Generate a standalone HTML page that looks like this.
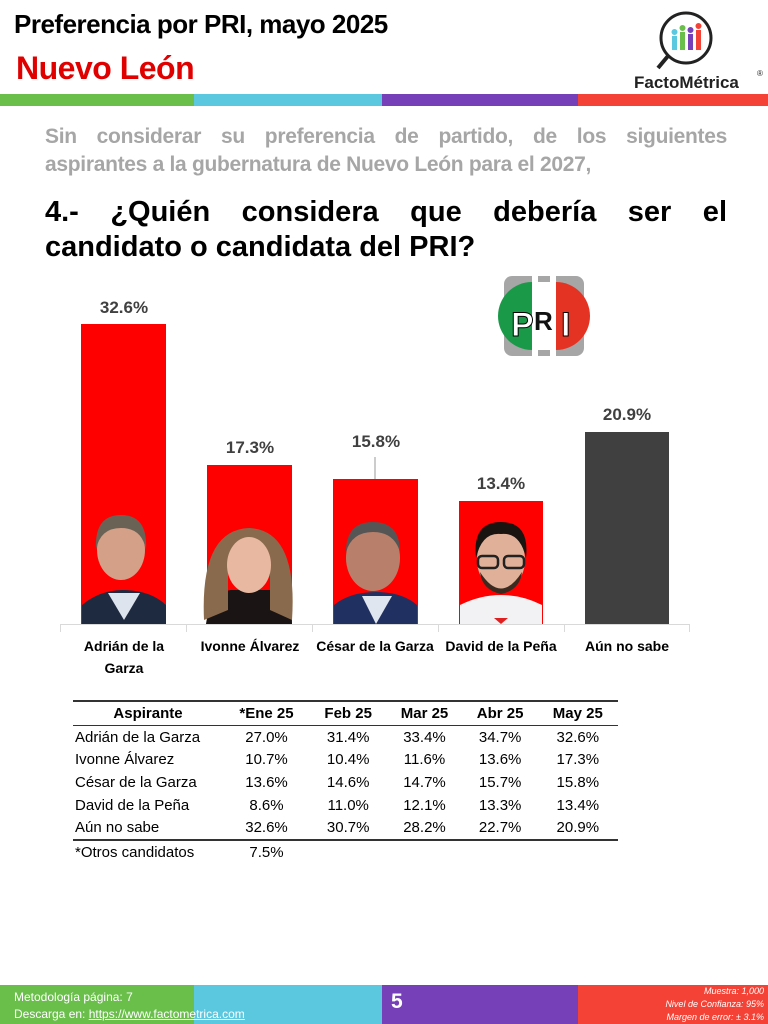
<!DOCTYPE html>
<html><head><meta charset="utf-8"><style>
body{margin:0;width:768px;height:1024px;position:relative;background:#fff;font-family:"Liberation Sans",sans-serif;overflow:hidden}
.a{position:absolute}
.t1{left:14px;top:9px;font-size:26px;font-weight:bold;color:#000;letter-spacing:-0.5px}
.t2{left:16px;top:50px;font-size:32px;font-weight:bold;color:#e00000;letter-spacing:-0.5px}
.sub{left:45px;top:123px;width:682px;font-size:21px;font-weight:bold;color:#a6a6a6;line-height:28px;letter-spacing:-0.3px}
.q{left:45px;top:195px;width:682px;font-size:29px;font-weight:bold;color:#000;line-height:35px}
table{border-collapse:collapse;font-size:15px}
td,th{padding:0;height:22.7px;text-align:center}
</style></head><body>
<div class="a t1">Preferencia por PRI, mayo 2025</div>
<div class="a t2">Nuevo León</div>
<svg class="a" style="left:630px;top:6px" width="136" height="88">
<circle cx="56" cy="32" r="25" fill="none" stroke="#222" stroke-width="3"/>
<line x1="38" y1="50" x2="28" y2="62" stroke="#222" stroke-width="4"/>
<rect x="42" y="30" width="5" height="14" fill="#5bc8e0"/><circle cx="44.5" cy="26" r="3" fill="#5bc8e0"/>
<rect x="50" y="26" width="5" height="18" fill="#6abf4b"/><circle cx="52.5" cy="22" r="3" fill="#6abf4b"/>
<rect x="58" y="28" width="5" height="16" fill="#7540b8"/><circle cx="60.5" cy="24" r="3" fill="#7540b8"/>
<rect x="66" y="24" width="5" height="20" fill="#f44336"/><circle cx="68.5" cy="20" r="3" fill="#f44336"/>
<text x="4" y="82" font-family="Liberation Sans" font-weight="bold" font-size="17" fill="#222">FactoMétrica</text>
<text x="127" y="70" font-size="8" fill="#222">®</text>
</svg>
<div class="a" style="left:0;top:94px;width:194px;height:12px;background:#6abf4b"></div>
<div class="a" style="left:194px;top:94px;width:188px;height:12px;background:#5bc8e0"></div>
<div class="a" style="left:382px;top:94px;width:196px;height:12px;background:#7540b8"></div>
<div class="a" style="left:578px;top:94px;width:190px;height:12px;background:#f44336"></div>
<div class="a sub"><span style="display:block;text-align:justify;text-align-last:justify">Sin considerar su preferencia de partido, de los siguientes</span>aspirantes a la gubernatura de Nuevo León para el 2027,</div>
<div class="a q"><span style="display:block;text-align:justify;text-align-last:justify">4.- ¿Quién considera que debería ser el</span>candidato o candidata del PRI?</div>
<svg class="a" style="left:0;top:260px" width="768" height="430" font-family="Liberation Sans">
<rect x="504" y="16" width="80" height="80" rx="8" fill="#a6a6a6"/>
<rect x="532" y="16" width="6" height="80" fill="#fff"/><rect x="550" y="16" width="6" height="80" fill="#fff"/>
<path d="M532 22 A34 34 0 0 0 532 90 Z" fill="#1a9a48"/>
<rect x="538" y="22" width="12" height="68" fill="#fff"/>
<path d="M556 22 A34 34 0 0 1 556 90 Z" fill="#e53323"/>
<text x="511" y="76" font-size="34" font-weight="bold" fill="#fff" stroke="#000" stroke-width="1">P</text>
<text x="534" y="70" font-size="26" font-weight="bold" fill="#111">R</text>
<text x="561" y="76" font-size="34" font-weight="bold" fill="#fff" stroke="#000" stroke-width="1">I</text>
<g fill="#ff0000">
<rect x="81" y="64" width="85" height="300"/>
<rect x="207" y="205" width="85" height="159"/>
<rect x="333" y="219" width="85" height="145"/>
<rect x="459" y="241" width="84" height="123"/>
</g>
<rect x="585" y="172" width="84" height="192" fill="#404040"/>
<line x1="375" y1="197" x2="375" y2="219" stroke="#999"/>
<g font-size="17" font-weight="bold" fill="#404040" text-anchor="middle">
<text x="124" y="53">32.6%</text><text x="250" y="193">17.3%</text><text x="376" y="187">15.8%</text><text x="501" y="229">13.4%</text><text x="627" y="160">20.9%</text>
</g>
<g>
<path d="M82 364 L82 345 Q100 330 123 330 Q150 330 166 345 L166 364Z" fill="#1e2a40"/>
<path d="M108 333 L124 360 L140 333Z" fill="#dde4ee"/>
<ellipse cx="121" cy="290" rx="24" ry="30" fill="#d4a088"/>
<path d="M96 290 Q94 255 121 255 Q148 255 146 290 Q142 268 121 268 Q100 268 96 290Z" fill="#6b6256"/>
<path d="M206 364 Q210 335 230 330 L270 330 Q290 335 292 364Z" fill="#1a1414"/>
<path d="M204 360 Q200 270 249 268 Q298 270 292 360 L270 350 L270 300 L228 300 L228 350Z" fill="#8a6a4c"/>
<ellipse cx="249" cy="305" rx="22" ry="28" fill="#e9b8a0"/>
<path d="M334 364 L334 345 Q350 332 376 332 Q402 332 417 345 L417 364Z" fill="#203060"/>
<path d="M362 336 L376 364 L392 336Z" fill="#dfe6f0"/>
<ellipse cx="373" cy="298" rx="27" ry="33" fill="#b8806a"/>
<path d="M346 292 Q346 262 373 262 Q400 262 400 292 Q394 272 373 272 Q352 272 346 292Z" fill="#555"/>
<path d="M460 364 L460 345 Q480 335 501 335 Q522 335 542 345 L542 364Z" fill="#f2f2f4"/>
<path d="M494 358 L508 358 L501 364Z" fill="#e02020"/>
<ellipse cx="501" cy="300" rx="24" ry="30" fill="#e0b098"/>
<path d="M476 298 Q472 262 501 262 Q530 262 526 298 Q520 272 501 274 Q482 272 476 298Z" fill="#1a1410"/>
<path d="M480 312 Q501 345 522 312 Q520 330 501 334 Q482 330 480 312Z" fill="#3a2a20"/>
<rect x="478" y="296" width="20" height="12" rx="4" fill="none" stroke="#222" stroke-width="2.5"/>
<rect x="504" y="296" width="20" height="12" rx="4" fill="none" stroke="#222" stroke-width="2.5"/>
</g>
<line x1="60" y1="364.5" x2="690" y2="364.5" stroke="#d9d9d9"/>
<g stroke="#d9d9d9"><line x1="186.5" y1="364" x2="186.5" y2="372"/><line x1="312.5" y1="364" x2="312.5" y2="372"/><line x1="438.5" y1="364" x2="438.5" y2="372"/><line x1="564.5" y1="364" x2="564.5" y2="372"/><line x1="60.5" y1="364" x2="60.5" y2="372"/><line x1="689.5" y1="364" x2="689.5" y2="372"/></g>
<g font-size="14" font-weight="bold" fill="#000" text-anchor="middle">
<text x="124" y="391">Adrián de la</text><text x="124" y="413">Garza</text>
<text x="250" y="391">Ivonne Álvarez</text>
<text x="375" y="391">César de la Garza</text>
<text x="501" y="391">David de la Peña</text>
<text x="627" y="391">Aún no sabe</text>
</g>
</svg>
<table class="a" style="left:73px;top:700px;width:545px;border-top:2px solid #333">
<tr style="border-bottom:1.5px solid #333;font-weight:bold"><th style="width:150px">Aspirante</th><th>*Ene 25</th><th>Feb 25</th><th>Mar 25</th><th>Abr 25</th><th>May 25</th></tr>
<tr><td style="text-align:left;padding-left:2px">Adrián de la Garza</td><td>27.0%</td><td>31.4%</td><td>33.4%</td><td>34.7%</td><td>32.6%</td></tr>
<tr><td style="text-align:left;padding-left:2px">Ivonne Álvarez</td><td>10.7%</td><td>10.4%</td><td>11.6%</td><td>13.6%</td><td>17.3%</td></tr>
<tr><td style="text-align:left;padding-left:2px">César de la Garza</td><td>13.6%</td><td>14.6%</td><td>14.7%</td><td>15.7%</td><td>15.8%</td></tr>
<tr><td style="text-align:left;padding-left:2px">David de la Peña</td><td>8.6%</td><td>11.0%</td><td>12.1%</td><td>13.3%</td><td>13.4%</td></tr>
<tr style="border-bottom:2px solid #333"><td style="text-align:left;padding-left:2px">Aún no sabe</td><td>32.6%</td><td>30.7%</td><td>28.2%</td><td>22.7%</td><td>20.9%</td></tr>
<tr><td style="text-align:left;padding-left:2px">*Otros candidatos</td><td>7.5%</td><td></td><td></td><td></td><td></td></tr>
</table>
<div class="a" style="left:0;top:985px;width:194px;height:39px;background:#6abf4b"></div>
<div class="a" style="left:194px;top:985px;width:188px;height:39px;background:#5bc8e0"></div>
<div class="a" style="left:382px;top:985px;width:196px;height:39px;background:#7540b8"></div>
<div class="a" style="left:578px;top:985px;width:190px;height:39px;background:#f44336"></div>
<div class="a" style="left:14px;top:989px;font-size:12px;color:#fff;line-height:17px">Metodología página: 7<br>Descarga en: <u>https://www.factometrica.com</u></div>
<div class="a" style="left:391px;top:990px;font-size:21px;font-weight:bold;color:#fff">5</div>
<div class="a" style="right:4px;top:985px;font-size:9px;font-style:italic;color:#fff;text-align:right;line-height:13px">Muestra: 1,000<br>Nivel de Confianza: 95%<br>Margen de error: ± 3.1%</div>
</body></html>
